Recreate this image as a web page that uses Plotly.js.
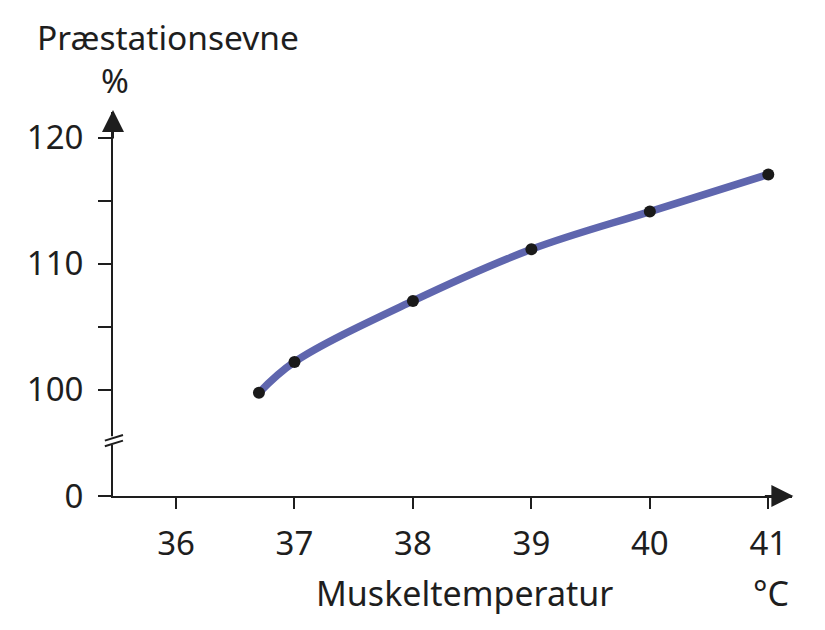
<!DOCTYPE html>
<html>
<head>
<meta charset="utf-8">
<script src="https://cdn.plot.ly/plotly-3.0.1.min.js"></script>
<style>
  html, body { margin: 0; padding: 0; background: #fff; }
  #myPlot { width: 825px; height: 630px; }
</style>
</head>
<body>
<div id="myPlot"></div>
<script>
// muscle temperature (°C) and relative performance (%)
var temperature = [36.7, 37, 38, 39, 40, 41];
var performance = [99.75, 102.2, 107.05, 111.15, 114.15, 117.1];

var xTickVals = [36, 37, 38, 39, 40, 41];
// the "0" tick sits just below the axis break
var yTickVals = [91.55, 100, 110, 120];
var yTickText = ['0', '100', '110', '120'];
var yMinorVals = [105, 115];

var axisColor = '#1e1e1e';
var fontName = 'Noto Sans, Open Sans, sans-serif';

let trace = {
    x: temperature,
    y: performance,
    mode: 'lines+markers',
    type: 'scatter',
    line: { color: '#5f66ae', width: 7.5, shape: 'spline', smoothing: 1 },
    marker: { color: '#1a1a1a', size: 12 },
    cliponaxis: false,
    hoverinfo: 'none'
};

let layout = {
    width: 825,
    height: 630,
    margin: { l: 113, r: 33, t: 112, b: 133.5 },
    paper_bgcolor: '#fff',
    plot_bgcolor: '#fff',
    showlegend: false,
    font: { family: fontName, color: '#1e1e1e', size: 33 },
    xaxis: {
        range: [35.468, 41.2],
        tickvals: xTickVals,
        ticks: 'outside',
        ticklen: 11,
        tickwidth: 2,
        tickcolor: axisColor,
        showline: true,
        linecolor: axisColor,
        linewidth: 2,
        showgrid: false,
        zeroline: false,
        tickfont: { size: 33 },
        ticklabelstandoff: 6
    },
    yaxis: {
        range: [91.55, 122.06],
        tickvals: yTickVals,
        ticktext: yTickText,
        ticks: 'outside',
        ticklen: 13,
        tickwidth: 2,
        tickcolor: axisColor,
        minor: { tickvals: yMinorVals, ticks: 'outside', ticklen: 13, tickwidth: 2, tickcolor: axisColor },
        showline: true,
        linecolor: axisColor,
        linewidth: 2,
        showgrid: false,
        zeroline: false,
        tickfont: { size: 33 },
        ticklabelstandoff: 8
    },
    shapes: [
        // white gap in the y axis for the break
        { type: 'line', xref: 'paper', yref: 'y', x0: 0, x1: 0, y0: 95.6, y1: 96.3,
          line: { color: '#fff', width: 4 } },
        // break marks
        { type: 'line', xref: 'paper', yref: 'y', x0: -0.012, x1: 0.0147, y0: 95.95, y1: 96.4,
          line: { color: axisColor, width: 2 } },
        { type: 'line', xref: 'paper', yref: 'y', x0: -0.012, x1: 0.0147, y0: 95.5, y1: 95.95,
          line: { color: axisColor, width: 2 } }
    ],
    annotations: [
        // arrow heads on the axes
        { xref: 'paper', yref: 'paper', x: 0, y: 1.005, ax: 0, ay: 30, text: '',
          showarrow: true, arrowhead: 2, arrowsize: 2.2, arrowwidth: 2, arrowcolor: axisColor },
        { xref: 'paper', yref: 'paper', x: 1.002, y: 0, ax: -30, ay: 0, text: '',
          showarrow: true, arrowhead: 2, arrowsize: 2.2, arrowwidth: 2, arrowcolor: axisColor },
        // labels
        { xref: 'paper', yref: 'paper', x: -0.1149, y: 1.195, xanchor: 'left', yanchor: 'middle',
          text: 'Præstationsevne', showarrow: false, font: { size: 33.5 } },
        { xref: 'paper', yref: 'paper', x: 0.003, y: 1.083, xanchor: 'center', yanchor: 'middle',
          text: '%', showarrow: false, font: { size: 33.5 } },
        { xref: 'paper', yref: 'paper', x: 0.517, y: -0.2536, xanchor: 'center', yanchor: 'middle',
          text: 'Muskeltemperatur', showarrow: false, font: { size: 34 } },
        { xref: 'paper', yref: 'paper', x: 0.969, y: -0.2536, xanchor: 'center', yanchor: 'middle',
          text: '°C', showarrow: false, font: { size: 34 } }
    ]
};

Plotly.newPlot('myPlot', [trace], layout, { displayModeBar: false, staticPlot: true });
</script>
</body>
</html>
